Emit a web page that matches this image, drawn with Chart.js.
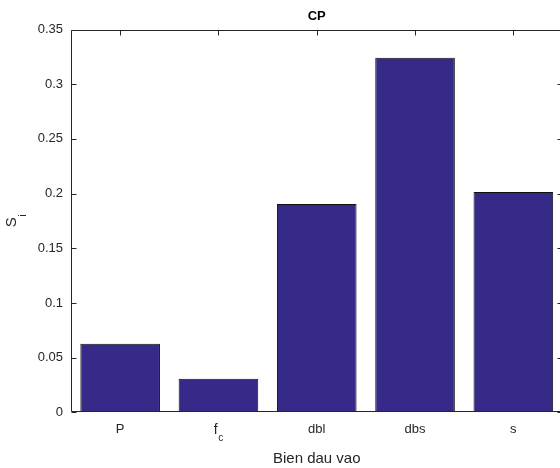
<!DOCTYPE html>
<html>
<head>
<meta charset="utf-8">
<script src="https://cdn.jsdelivr.net/npm/chart.js@4.4.1/dist/chart.umd.min.js"></script>
<style>
html, body { margin: 0; padding: 0; background: #fff; }
#wrap { width: 560px; height: 468px; overflow: hidden; }
</style>
</head>
<body>
<div id="wrap"><canvas id="chart" width="580" height="468"></canvas></div>
<script>
// data
const categories = ['P', 'f_c', 'dbl', 'dbs', 's'];
const siValues = [0.0627, 0.0307, 0.1905, 0.3242, 0.2014];
const yTicks = [0, 0.05, 0.1, 0.15, 0.2, 0.25, 0.3, 0.35];

const ink = '#262626';
const FONT = "'Liberation Sans', Arial, Helvetica, sans-serif";

// text with a subscript, drawn left to right from x (baseline y)
function drawSub(ctx, base, sub, x, y, size, subSize, drop) {
    ctx.font = size + 'px ' + FONT;
    const wb = ctx.measureText(base).width;
    ctx.fillText(base, x, y);
    ctx.font = subSize + 'px ' + FONT;
    ctx.fillText(sub, x + wb + 0.5, y + drop);
}
function subWidth(ctx, base, sub, size, subSize) {
    ctx.font = size + 'px ' + FONT;
    const wb = ctx.measureText(base).width;
    ctx.font = subSize + 'px ' + FONT;
    return wb + 0.5 + ctx.measureText(sub).width;
}

// matlab style box, inward ticks, title and subscript labels
const matlabAxes = {
    id: 'matlabAxes',
    afterDraw(chart) {
        const { ctx, chartArea: a, scales: { x, y } } = chart;
        const L = Math.round(a.left) + 0.5, R = Math.round(a.right) - 0.5;
        const T = Math.round(a.top) + 0.5, B = Math.round(a.bottom) - 0.5;
        ctx.save();
        ctx.strokeStyle = ink;
        ctx.lineWidth = 1;
        ctx.beginPath();
        ctx.moveTo(L, T); ctx.lineTo(R, T); ctx.lineTo(R, B); ctx.lineTo(L, B); ctx.closePath();
        yTicks.forEach(v => {
            const py = Math.round(y.getPixelForValue(v)) + 0.5;
            ctx.moveTo(L, py); ctx.lineTo(L + 5, py);
            ctx.moveTo(R, py); ctx.lineTo(R - 5, py);
        });
        categories.forEach((c, i) => {
            const px = Math.round(x.getPixelForValue(i)) + 0.5;
            ctx.moveTo(px, T); ctx.lineTo(px, T + 5);
        });
        ctx.stroke();

        ctx.fillStyle = '#000';
        ctx.textAlign = 'center';
        ctx.textBaseline = 'alphabetic';
        ctx.font = 'bold 13px ' + FONT;
        ctx.fillText('CP', (a.left + a.right) / 2, 20);

        // f_c tick label
        ctx.fillStyle = ink;
        ctx.textAlign = 'left';
        const fx = x.getPixelForValue(categories.indexOf('f_c'));
        const fw = subWidth(ctx, 'f', 'c', 14, 10);
        drawSub(ctx, 'f', 'c', fx - fw / 2, 434, 14, 10, 7);

        // y title S_i
        ctx.translate(15.5, (a.top + a.bottom) / 2);
        ctx.rotate(-Math.PI / 2);
        const sw = subWidth(ctx, 'S', 'i', 15, 11);
        drawSub(ctx, 'S', 'i', -sw / 2, 0, 15, 11, 10);
        ctx.restore();
    }
};

new Chart(document.getElementById('chart').getContext('2d'), {
    type: 'bar',
    data: {
        labels: categories,
        datasets: [{
            data: siValues,
            backgroundColor: '#352a87',
            borderColor: '#111111',
            borderWidth: 1,
            borderSkipped: false,
            barPercentage: 0.81,
            categoryPercentage: 1
        }]
    },
    options: {
        responsive: false,
        animation: false,
        layout: { padding: { top: 29.5, right: 17.5, left: 0, bottom: 0 } },
        plugins: {
            legend: { display: false },
            tooltip: { enabled: false },
            title: { display: false }
        },
        scales: {
            x: {
                grid: { display: false, drawTicks: false },
                border: { display: false },
                ticks: {
                    color: ink,
                    font: { family: FONT, size: 13 },
                    padding: 9,
                    maxRotation: 0,
                    autoSkip: false,
                    callback: (v, i) => categories[i] === 'f_c' ? '' : categories[i]
                },
                title: {
                    display: true,
                    text: 'Bien dau vao',
                    color: ink,
                    font: { family: FONT, size: 15 },
                    padding: { top: 0, bottom: 0 }
                },
                afterFit: s => { s.height = 55.7; }
            },
            y: {
                min: 0,
                max: 0.35,
                afterBuildTicks: s => { s.ticks = yTicks.map(v => ({ value: v })); },
                grid: { display: false, drawTicks: false },
                border: { display: false },
                ticks: {
                    color: ink,
                    font: { family: FONT, size: 13 },
                    padding: 8,
                    callback: v => String(+v.toFixed(2))
                },
                afterFit: s => { s.width = 71; }
            }
        }
    },
    plugins: [matlabAxes]
});
</script>
</body>
</html>
